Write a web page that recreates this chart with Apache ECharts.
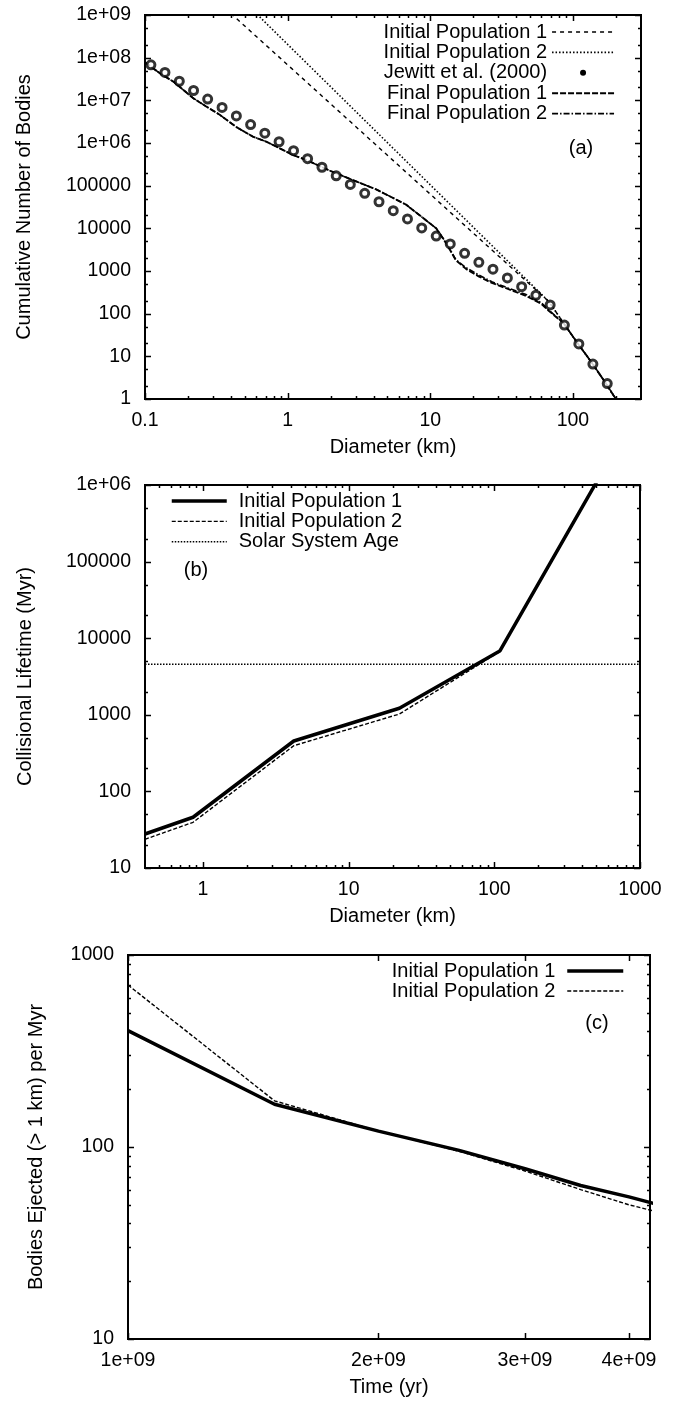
<!DOCTYPE html>
<html>
<head>
<meta charset="utf-8">
<script src="https://cdn.jsdelivr.net/npm/echarts@6/dist/echarts.min.js"></script>
<style>
html,body{margin:0;padding:0;background:#fff;}
#chart{width:680px;height:1403px;}
</style>
</head>
<body>
<div id="chart"></div>
<script>
// ---------------- Panel (a): cumulative size distribution ----------------
const diamInit1A = [0.3, 68, 86, 107, 136, 169, 200];
const numInit1A  = [2.6e9, 190, 60, 21, 7, 2.4, 1];
const diamInit2A = [0.5, 68, 86, 107, 136, 169, 200];
const numInit2A  = [2.0e9, 190, 60, 21, 7, 2.4, 1];
const diamJewitt = [0.110, 0.138, 0.174, 0.219, 0.275, 0.347, 0.437, 0.550, 0.692, 0.871,
                    1.10, 1.38, 1.74, 2.19, 2.75, 3.47, 4.37, 5.50, 6.92, 8.71,
                    11.0, 13.8, 17.4, 21.9, 27.5, 34.7, 43.7, 55.0, 69.2, 87.1,
                    110, 138, 174];
const numJewitt  = [6.8e7, 4.5e7, 2.8e7, 1.7e7, 1.07e7, 6.8e6, 4.3e6, 2.7e6, 1.7e6, 1.07e6,
                    6.6e5, 4.3e5, 2.7e5, 1.7e5, 1.07e5, 6.6e4, 4.2e4, 2.6e4, 1.66e4, 1.02e4,
                    6600, 4300, 2600, 1600, 1100, 690, 430, 270, 160, 54,
                    19.5, 6.6, 2.3];
const diamFinal1A = [0.1, 0.127, 0.158, 0.218, 0.27, 0.334, 0.438, 0.571, 0.71, 0.88,
                     1.09, 1.35, 2.07, 4.17, 6.76, 11, 12.9, 15.1, 17.8, 22,
                     27, 35, 47, 60, 68, 86, 107, 136, 169, 200];
const numFinal1A  = [7.8e7, 4.3e7, 2.75e7, 1.12e7, 7.1e6, 4.6e6, 2.35e6, 1.41e6, 1.07e6, 7.5e5,
                     5.25e5, 4.0e5, 2.1e5, 8.2e4, 3.6e4, 1.0e4, 4.5e3, 1.8e3, 1.12e3, 740,
                     525, 380, 260, 170, 115, 60, 21, 7, 2.4, 1];
const diamFinal2A = diamFinal1A;
const numFinal2A  = [7.8e7, 4.3e7, 2.75e7, 1.12e7, 7.1e6, 4.6e6, 2.35e6, 1.41e6, 1.07e6, 7.5e5,
                     5.25e5, 4.0e5, 2.1e5, 8.2e4, 3.6e4, 1.0e4, 4.6e3, 1.85e3, 1.2e3, 800,
                     560, 400, 280, 180, 120, 60, 21, 7, 2.4, 1];

// ---------------- Panel (b): collisional lifetime ----------------
const diamB   = [0.4, 0.855, 4.2, 22.3, 109, 530];
const lifeB1  = [27.8, 46, 455, 1216, 6800, 1.3e6];
const lifeB2  = [23.7, 39.5, 395, 1023, 6700, 1.28e6];
const diamAge = [0.4, 1000];
const lifeAge = [4560, 4560];

// ---------------- Panel (c): ejection rate ----------------
const timeC = [1e9, 1.5e9, 2e9, 2.5e9, 3e9, 3.5e9, 4e9, 4.5e9];
const ejC1  = [404, 167, 121, 96, 77, 63, 55, 48];
const ejC2  = [698, 174, 121, 95, 75, 60, 50, 44];

// ---------------- Tick values / labels ----------------
const ticksXA = [0.1, 1, 10, 100];
const ticksYA = [1, 10, 100, 1000, 10000, 100000, 1e6, 1e7, 1e8, 1e9];
const ticksXB = [1, 10, 100, 1000];
const ticksYB = [10, 100, 1000, 10000, 100000, 1e6];
const ticksXC = [1e9, 2e9, 3e9, 4e9];
const ticksYC = [10, 100, 1000];
const multsAll = [2, 3, 4, 5, 6, 7, 8, 9];
const multsFew = [2, 5];

const FONT = "'Liberation Sans', Arial, Helvetica, sans-serif";

function gp(v) {
  if (v >= 1e6) {
    const e = Math.floor(Math.log10(v) + 1e-9);
    const m = Math.round(v / Math.pow(10, e));
    return m + 'e+' + (e < 10 ? '0' + e : e);
  }
  return String(v);
}
function pairs(xs, ys) { return xs.map((x, i) => [x, ys[i]]); }
function minorTicks(e0, e1, mults, lo, hi) {
  const out = [];
  for (let e = e0; e <= e1; e++) for (const m of mults) {
    const v = +(m * Math.pow(10, e)).toPrecision(6);
    if (v > lo && v < hi) out.push(v);
  }
  return out;
}

const grids = [], xAxes = [], yAxes = [], tickSeries = [];
function makeAxis(dim, g, c) {
  return {type: 'log', logBase: 10, gridIndex: g, min: c.min, max: c.max,
    position: dim === 'x' ? 'bottom' : 'left',
    splitLine: {show: false}, minorTick: {show: false}, minorSplitLine: {show: false},
    axisPointer: {show: false}, silent: true,
    axisLine: {show: false, onZero: false}, axisTick: {show: false},
    axisLabel: {show: true, customValues: c.ticks, formatter: v => gp(v), margin: c.margin,
      color: '#000', fontFamily: FONT, fontSize: 19.5},
    name: c.name, nameLocation: 'middle', nameGap: c.nameGap, nameRotate: dim === 'y' ? 90 : 0,
    nameTextStyle: {color: '#000', fontFamily: FONT, fontSize: 20}};
}
function panel(g, rect, xc, yc) {
  grids.push({left: rect[0], top: rect[1], width: rect[2], height: rect[3], containLabel: false,
    outerBoundsMode: 'none', show: true, borderColor: '#000', borderWidth: 2, backgroundColor: 'transparent'});
  xAxes.push(makeAxis('x', g, xc));
  yAxes.push(makeAxis('y', g, yc));
  // tick marks placed through the axes' own scales (kind: 0 x-major, 1 x-minor, 2 y-major, 3 y-minor)
  const data = [];
  xc.ticks.forEach(v => data.push([v, yc.min, 0]));
  xc.minor.forEach(v => data.push([v, yc.min, 1]));
  yc.ticks.forEach(v => data.push([xc.min, v, 2]));
  yc.minor.forEach(v => data.push([xc.min, v, 3]));
  tickSeries.push({type: 'custom', xAxisIndex: g, yAxisIndex: g, silent: true, z: 6, clip: false,
    data: data,
    renderItem: function (params, api) {
      const cs = params.coordSys;
      const kind = api.value(2);
      const p = api.coord([api.value(0), api.value(1)]);
      const len = (kind === 0 || kind === 2) ? 6 : 3;
      const st = {stroke: '#000', lineWidth: 1.5};
      if (kind < 2) {
        const x = Math.round(p[0]) + 0.5;
        return {type: 'group', children: [
          {type: 'line', shape: {x1: x, y1: cs.y + cs.height, x2: x, y2: cs.y + cs.height - len}, style: st},
          {type: 'line', shape: {x1: x, y1: cs.y, x2: x, y2: cs.y + len}, style: st}]};
      }
      const y = Math.round(p[1]) + 0.5;
      return {type: 'group', children: [
        {type: 'line', shape: {x1: cs.x, y1: y, x2: cs.x + len, y2: y}, style: st},
        {type: 'line', shape: {x1: cs.x + cs.width, y1: y, x2: cs.x + cs.width - len, y2: y}, style: st}]};
    }});
}

panel(0, [145, 15, 496, 384],
  {min: 0.1, max: 300, ticks: ticksXA, minor: minorTicks(-1, 2, multsAll, 0.1, 300), margin: 12, name: 'Diameter (km)', nameGap: 38},
  {min: 1, max: 1e9, ticks: ticksYA, minor: minorTicks(0, 8, multsFew, 1, 1e9), margin: 14, name: 'Cumulative Number of Bodies', nameGap: 111});
panel(1, [145, 485, 495, 383],
  {min: 0.4, max: 1000, ticks: ticksXB, minor: minorTicks(-1, 2, multsAll, 0.4, 1000), margin: 12, name: 'Diameter (km)', nameGap: 38},
  {min: 10, max: 1e6, ticks: ticksYB, minor: minorTicks(1, 5, multsFew, 10, 1e6), margin: 14, name: 'Collisional Lifetime (Myr)', nameGap: 110});
panel(2, [128, 955, 522, 384],
  {min: 1e9, max: 4.24e9, ticks: ticksXC, minor: [], margin: 12, name: 'Time (yr)', nameGap: 38},
  {min: 10, max: 1000, ticks: ticksYC, minor: minorTicks(1, 2, multsAll, 10, 1000), margin: 14, name: 'Bodies Ejected (> 1 km) per Myr', nameGap: 82});

function lineSeries(name, g, data, width, dash, z) {
  return {type: 'line', name: name, xAxisIndex: g, yAxisIndex: g, data: data,
    symbol: 'none', clip: true, silent: true, z: z || 2,
    lineStyle: {color: '#000', width: width, type: dash}};
}

const DASH_I1 = [4, 4], DASH_I2 = [1.5, 2], DASH_F1 = [6, 2], DASH_F2 = [6, 2, 1.5, 2];
const DASH_B2 = [4, 2], DASH_AGE = [1.5, 1.5];

const series = [
  lineSeries('Initial Population 1', 0, pairs(diamInit1A, numInit1A), 1.4, DASH_I1),
  lineSeries('Initial Population 2', 0, pairs(diamInit2A, numInit2A), 1.6, DASH_I2),
  {type: 'scatter', name: 'Jewitt et al. (2000)', xAxisIndex: 0, yAxisIndex: 0, data: pairs(diamJewitt, numJewitt),
    symbol: 'circle', symbolSize: 8, silent: true, z: 3,
    itemStyle: {color: '#fff', borderColor: '#000', borderWidth: 3}},
  lineSeries('Final Population 1', 0, pairs(diamFinal1A, numFinal1A), 1.9, DASH_F1),
  lineSeries('Final Population 2', 0, pairs(diamFinal2A, numFinal2A), 1.6, DASH_F2),

  lineSeries('Initial Population 1', 1, pairs(diamB, lifeB1), 3.5, 'solid', 3),
  lineSeries('Initial Population 2', 1, pairs(diamB, lifeB2), 1.4, DASH_B2),
  lineSeries('Solar System Age', 1, pairs(diamAge, lifeAge), 1.4, DASH_AGE),

  lineSeries('Initial Population 1', 2, pairs(timeC, ejC1), 3.5, 'solid', 3),
  lineSeries('Initial Population 2', 2, pairs(timeC, ejC2), 1.4, DASH_B2)
].concat(tickSeries);

const legendText = {color: '#000', fontFamily: FONT, fontSize: 20};
const hideSym = {opacity: 0};
const legends = [
  {orient: 'vertical', align: 'right', right: 65, top: 22, itemWidth: 62, itemHeight: 6, itemGap: 0.4, padding: 0,
    selectedMode: false, textStyle: legendText,
    data: [
      {name: 'Initial Population 1', lineStyle: {color: '#000', width: 1.4, type: DASH_I1, opacity: 1}, itemStyle: hideSym},
      {name: 'Initial Population 2', lineStyle: {color: '#000', width: 1.6, type: DASH_I2, opacity: 1}, itemStyle: hideSym},
      {name: 'Jewitt et al. (2000)', itemStyle: {color: '#000', borderColor: '#000', borderWidth: 0, opacity: 1}},
      {name: 'Final Population 1', lineStyle: {color: '#000', width: 1.9, type: DASH_F1, opacity: 1}, itemStyle: hideSym},
      {name: 'Final Population 2', lineStyle: {color: '#000', width: 1.6, type: DASH_F2, opacity: 1}, itemStyle: hideSym}
    ]},
  {orient: 'vertical', align: 'left', left: 170, top: 491, itemWidth: 55, itemHeight: 6, itemGap: 0.4, padding: 0,
    selectedMode: false, textStyle: Object.assign({padding: [0, 0, 0, 7]}, legendText),
    data: [
      {name: 'Initial Population 1', lineStyle: {color: '#000', width: 3.5, type: 'solid', opacity: 1}, itemStyle: hideSym},
      {name: 'Initial Population 2', lineStyle: {color: '#000', width: 1.4, type: DASH_B2, opacity: 1}, itemStyle: hideSym},
      {name: 'Solar System Age', lineStyle: {color: '#000', width: 1.4, type: DASH_AGE, opacity: 1}, itemStyle: hideSym}
    ]},
  {orient: 'vertical', align: 'right', right: 55, top: 961, itemWidth: 56, itemHeight: 6, itemGap: 0, padding: 0,
    selectedMode: false, textStyle: Object.assign({padding: [0, 7, 0, 0]}, legendText),
    data: [
      {name: 'Initial Population 1', lineStyle: {color: '#000', width: 3.5, type: 'solid', opacity: 1}, itemStyle: hideSym},
      {name: 'Initial Population 2', lineStyle: {color: '#000', width: 1.4, type: DASH_B2, opacity: 1}, itemStyle: hideSym}
    ]}
];

function panelLabel(text, x, y) {
  return {type: 'text', x: x, y: y, z: 10,
    style: {text: text, fill: '#000', fontFamily: FONT, fontSize: 20, align: 'center', verticalAlign: 'middle'}};
}

const chart = echarts.init(document.getElementById('chart'), null, {renderer: 'canvas'});
chart.setOption({
  animation: false,
  backgroundColor: '#fff',
  grid: grids,
  xAxis: xAxes,
  yAxis: yAxes,
  legend: legends,
  tooltip: {show: false},
  series: series,
  graphic: [panelLabel('(a)', 581, 148), panelLabel('(b)', 196, 570), panelLabel('(c)', 597, 1023)]
});
</script>
</body>
</html>
